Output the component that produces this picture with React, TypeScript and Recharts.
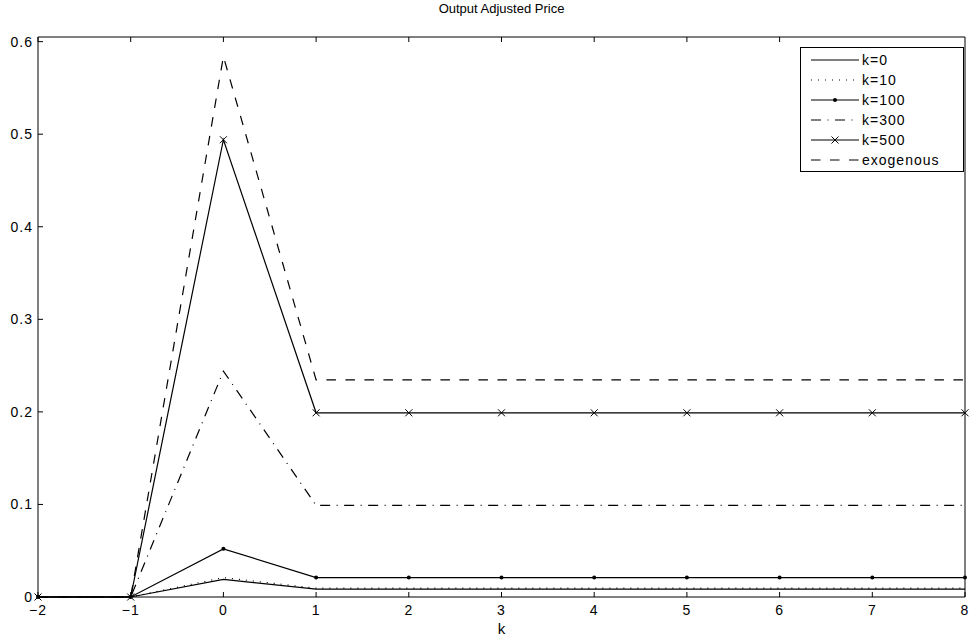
import React from 'react';
import { LineChart, Line, XAxis, YAxis } from 'recharts';

const kSteps = [-2, -1, 0, 1, 2, 3, 4, 5, 6, 7, 8];
const k0 = [0, 0, 0.019, 0.0085, 0.0085, 0.0085, 0.0085, 0.0085, 0.0085, 0.0085, 0.0085];
const k10 = [0, 0, 0.021, 0.0095, 0.0095, 0.0095, 0.0095, 0.0095, 0.0095, 0.0095, 0.0095];
const k100 = [0, 0, 0.052, 0.021, 0.021, 0.021, 0.021, 0.021, 0.021, 0.021, 0.021];
const k300 = [0, 0, 0.244, 0.099, 0.099, 0.099, 0.099, 0.099, 0.099, 0.099, 0.099];
const k500 = [0, 0, 0.494, 0.199, 0.199, 0.199, 0.199, 0.199, 0.199, 0.199, 0.199];
const exogenous = [0, 0, 0.584, 0.2345, 0.2345, 0.2345, 0.2345, 0.2345, 0.2345, 0.2345, 0.2345];
const yTicks = [0, 0.1, 0.2, 0.3, 0.4, 0.5, 0.6];

const data = kSteps.map((k, i) => ({
  k,
  k0: k0[i],
  k10: k10[i],
  k100: k100[i],
  k300: k300[i],
  k500: k500[i],
  exo: exogenous[i],
}));

type Marker = 'none' | 'dot' | 'cross';

const series: { key: string; name: string; dash?: string; marker: Marker }[] = [
  { key: 'k0', name: 'k=0', marker: 'none' },
  { key: 'k10', name: 'k=10', dash: '1 6', marker: 'none' },
  { key: 'k100', name: 'k=100', marker: 'dot' },
  { key: 'k300', name: 'k=300', dash: '10 6.5 1 6.5', marker: 'none' },
  { key: 'k500', name: 'k=500', marker: 'cross' },
  { key: 'exo', name: 'exogenous', dash: '9.5 9.5', marker: 'none' },
];

const FONT = '"Liberation Sans", Arial, Helvetica, sans-serif';
const LW = 1.2;

const Cross = (props: any) => {
  const { cx, cy } = props;
  if (cx == null || cy == null) return null;
  const s = 3.5;
  return (
    <g>
      <line x1={cx - s} y1={cy - s} x2={cx + s} y2={cy + s} stroke="#000" strokeWidth={1} />
      <line x1={cx - s} y1={cy + s} x2={cx + s} y2={cy - s} stroke="#000" strokeWidth={1} />
    </g>
  );
};

const fmtX = (v: number) => (v < 0 ? '\u2212' + Math.abs(v) : String(v));
const fmtY = (v: number) => (v === 0 ? '0' : v.toFixed(1));

const tickStyle = { fill: '#000', fontSize: 14, fontFamily: FONT, letterSpacing: 1 };

const LegendBox = () => (
  <svg width={165} height={126} style={{ position: 'absolute', left: 800, top: 47 }}>
    <rect x={0.5} y={0.5} width={163} height={124} fill="#fff" stroke="#000" strokeWidth={1} />
    {series.map((s, i) => {
      const y = 13 + i * 20;
      return (
        <g key={s.key}>
          <line x1={11} x2={59} y1={y} y2={y} stroke="#000" strokeWidth={LW} strokeDasharray={s.dash} />
          {s.marker === 'dot' && <circle cx={35} cy={y} r={2} fill="#000" />}
          {s.marker === 'cross' && <Cross cx={35} cy={y} />}
          <text
            x={62}
            y={y}
            dominantBaseline="central"
            fontSize={14}
            letterSpacing={1}
            fontFamily={FONT}
            fill="#000"
          >
            {s.name}
          </text>
        </g>
      );
    })}
  </svg>
);

export default function App() {
  return (
    <div style={{ position: 'absolute', left: 0, top: 0, width: 970, height: 641, background: '#fff' }}>
      <div
        style={{
          position: 'absolute',
          left: 38,
          top: 1,
          width: 927,
          textAlign: 'center',
          fontFamily: FONT,
          fontSize: 13,
          color: '#000',
        }}
      >
        Output Adjusted Price
      </div>
      <LineChart width={970} height={641} data={data} margin={{ top: 36, right: 4, bottom: 0, left: 0 }}>
        <XAxis
          dataKey="k"
          type="number"
          domain={[-2, 8]}
          ticks={kSteps}
          tickSize={-5}
          tickMargin={13}
          tickFormatter={fmtX}
          height={44}
          stroke="#000"
          tick={tickStyle}
          label={{ value: 'k', position: 'insideBottom', offset: 7, fill: '#000', fontSize: 15, fontFamily: FONT }}
        />
        <XAxis
          xAxisId="top"
          orientation="top"
          type="number"
          domain={[-2, 8]}
          ticks={kSteps}
          tickSize={-5}
          tickFormatter={() => ''}
          height={1}
          stroke="#000"
        />
        <YAxis
          type="number"
          domain={[0, 0.605]}
          ticks={yTicks}
          tickSize={-5}
          tickMargin={10}
          tickFormatter={fmtY}
          width={38}
          stroke="#000"
          tick={tickStyle}
        />
        <YAxis
          yAxisId="right"
          orientation="right"
          type="number"
          domain={[0, 0.605]}
          ticks={yTicks}
          tickSize={-5}
          tickFormatter={() => ''}
          width={1}
          stroke="#000"
        />
        {series.map((s) => (
          <Line
            key={s.key}
            type="linear"
            dataKey={s.key}
            name={s.name}
            stroke="#000"
            strokeWidth={LW}
            strokeDasharray={s.dash}
            dot={
              s.marker === 'dot'
                ? { r: 2, fill: '#000', stroke: '#000', strokeWidth: 0 }
                : s.marker === 'cross'
                ? <Cross />
                : false
            }
            activeDot={false}
            isAnimationActive={false}
          />
        ))}
      </LineChart>
      <LegendBox />
    </div>
  );
}
